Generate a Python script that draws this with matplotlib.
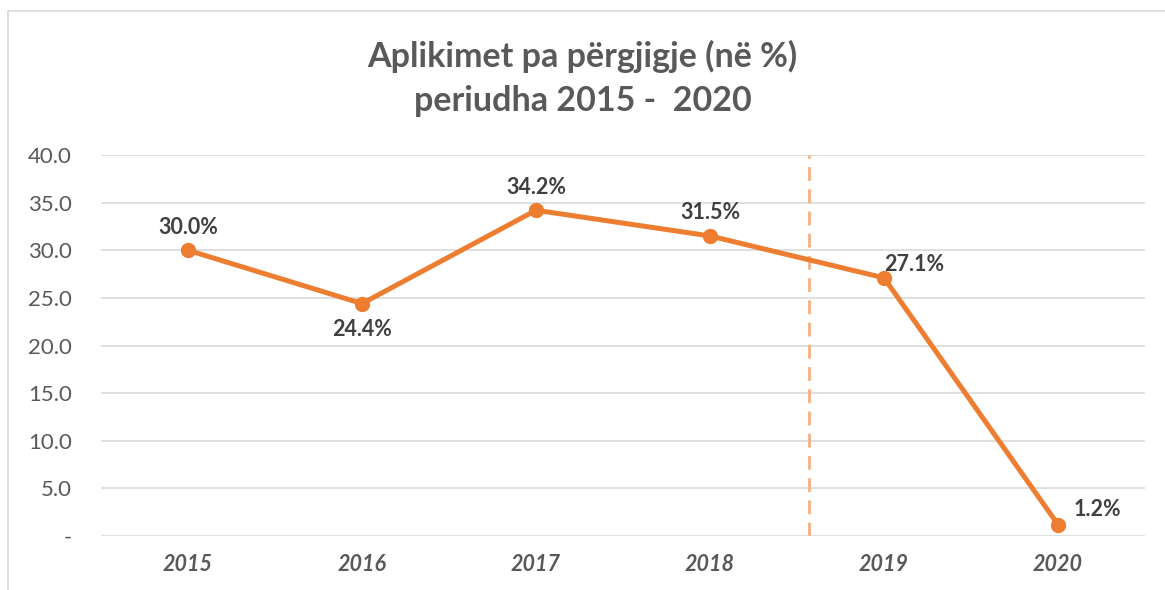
import matplotlib
matplotlib.use('Agg')
import matplotlib.pyplot as plt
from matplotlib.patches import Rectangle

years = ['2015', '2016', '2017', '2018', '2019', '2020']
values = [30.0, 24.4, 34.2, 31.5, 27.1, 1.2]
yticks = [0, 5, 10, 15, 20, 25, 30, 35, 40]
ytick_labels = ['-', '5.0', '10.0', '15.0', '20.0', '25.0', '30.0', '35.0', '40.0']
divider_pos = 3.57

ORANGE = '#ED7D31'
LIGHT_ORANGE = '#F4B183'
GRID = '#D9D9D9'
TEXT = '#595959'
LABEL = '#404040'

plt.rcParams['font.family'] = ['Lato', 'DejaVu Sans']

fig = plt.figure(figsize=(11.65, 5.9), dpi=100)
ax = fig.add_axes([101 / 1165, 1 - 536 / 590, 1044 / 1165, 381 / 590])

x = list(range(len(years)))
ax.plot(x, values, color=ORANGE, linewidth=3.6, marker='o', markersize=10,
        zorder=3, solid_capstyle='round')
ax.axvline(divider_pos, color=LIGHT_ORANGE, linewidth=2, linestyle=(0, (5, 3)), zorder=2)

offsets = [(0, 9, 'center', 'bottom'), (0, -11, 'center', 'top'),
           (0, 9, 'center', 'bottom'), (0, 9, 'center', 'bottom'),
           (0, 2, 'left', 'bottom'), (11, 3, 'left', 'bottom')]
for xi, v, (dx, dy, ha, va) in zip(x, values, offsets):
    ax.annotate(f'{v:.1f}%', (xi, v), xytext=(dx, dy), textcoords='offset points',
                ha=ha, va=va, fontsize=15.5, fontweight='bold', color=LABEL)

ax.set_xlim(-0.5, 5.5)
ax.set_ylim(0, 40)
ax.set_yticks(yticks)
ax.set_yticklabels(ytick_labels)
ax.set_xticks(x)
ax.set_xticklabels(years, fontstyle='italic', fontweight='bold')
ax.tick_params(axis='y', length=0, pad=21, labelsize=16, labelcolor=TEXT)
ax.tick_params(axis='x', length=0, pad=13, labelsize=15.5, labelcolor=TEXT)
ax.grid(axis='y', color=GRID, linewidth=1.2)
ax.set_axisbelow(True)
for s in ax.spines.values():
    s.set_visible(False)

fig.text(0.5, 1 - 56 / 590, 'Aplikimet pa përgjigje (në %)', ha='center', va='center',
         fontsize=24.5, fontweight='bold', color=TEXT)
fig.text(0.5, 1 - 101 / 590, 'periudha 2015 -  2020', ha='center', va='center',
         fontsize=24.5, fontweight='bold', color=TEXT)

fig.patches.append(Rectangle((8 / 1165, -0.1), 1.2, 1 - 11 / 590 + 0.1,
                             transform=fig.transFigure, fill=False,
                             edgecolor=GRID, linewidth=1.2))

fig.savefig('out.png', dpi=100, facecolor='white')
